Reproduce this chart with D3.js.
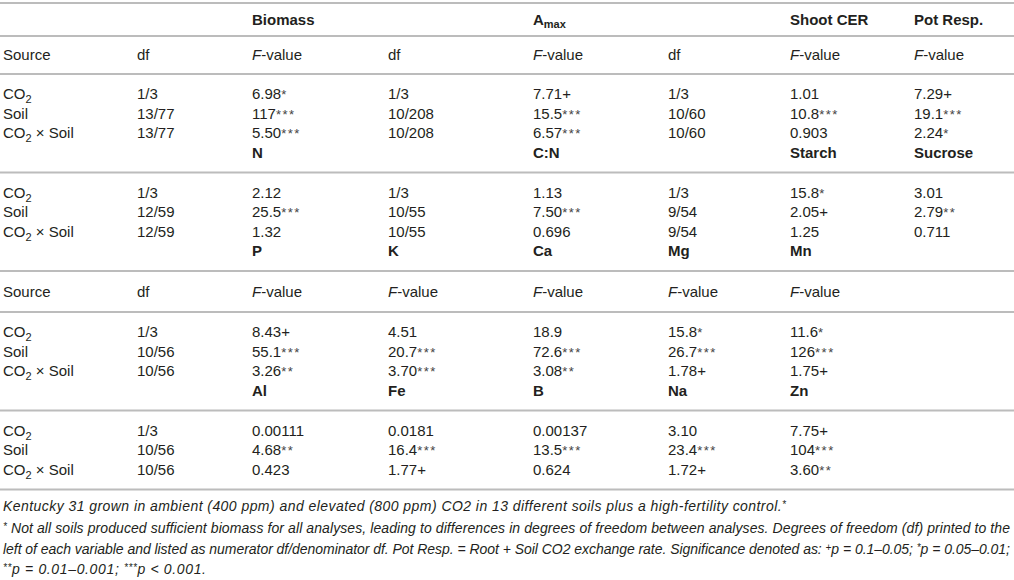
<!DOCTYPE html>
<html>
<head>
<meta charset="utf-8">
<style>
  body{ margin:0; background:#fff; }
  svg{ display:block; }
  text{ font-family: "Liberation Sans", Arial, sans-serif; fill:#231f20; }
</style>
<script src="https://d3js.org/d3.v7.min.js"></script>
</head>
<body>
<svg id="vis"></svg>
<script>
  var width = 1014,
    height = 580,
    fontSize = 15,
    ruleColor = "#bcbcbc";

  // table data -------------------------------------------------
  var sources = ["CO2", "Soil", "CO2 × Soil"];

  var varsTop = ["", "", "Biomass", "", "Amax", "", "Shoot CER", "Pot Resp."];
  var headsTop = ["Source", "df", "F-value", "df", "F-value", "df", "F-value", "F-value"];
  var block1 = [
    ["1/3", "6.98*", "1/3", "7.71+", "1/3", "1.01", "7.29+"],
    ["13/77", "117***", "10/208", "15.5***", "10/60", "10.8***", "19.1***"],
    ["13/77", "5.50***", "10/208", "6.57***", "10/60", "0.903", "2.24*"]
  ];
  var vars2 = ["", "", "N", "", "C:N", "", "Starch", "Sucrose"];
  var block2 = [
    ["1/3", "2.12", "1/3", "1.13", "1/3", "15.8*", "3.01"],
    ["12/59", "25.5***", "10/55", "7.50***", "9/54", "2.05+", "2.79**"],
    ["12/59", "1.32", "10/55", "0.696", "9/54", "1.25", "0.711"]
  ];
  var vars3 = ["", "", "P", "K", "Ca", "Mg", "Mn", ""];
  var headsLow = ["Source", "df", "F-value", "F-value", "F-value", "F-value", "F-value", ""];
  var block3 = [
    ["1/3", "8.43+", "4.51", "18.9", "15.8*", "11.6*"],
    ["10/56", "55.1***", "20.7***", "72.6***", "26.7***", "126***"],
    ["10/56", "3.26**", "3.70***", "3.08**", "1.78+", "1.75+"]
  ];
  var vars4 = ["", "", "Al", "Fe", "B", "Na", "Zn", ""];
  var block4 = [
    ["1/3", "0.00111", "0.0181", "0.00137", "3.10", "7.75+"],
    ["10/56", "4.68**", "16.4***", "13.5***", "23.4***", "104***"],
    ["10/56", "0.423", "1.77+", "0.624", "1.72+", "3.60**"]
  ];

  var footnotes = [
    "Kentucky 31 grown in ambient (400 ppm) and elevated (800 ppm) CO2 in 13 different soils plus a high-fertility control.^*",
    "^* Not all soils produced sufficient biomass for all analyses, leading to differences in degrees of freedom between analyses. Degrees of freedom (df) printed to the",
    "left of each variable and listed as numerator df/denominator df. Pot Resp. = Root + Soil CO2 exchange rate. Significance denoted as: ^+p = 0.1–0.05; ^*p = 0.05–0.01;",
    "^**p = 0.01–0.001; ^***p < 0.001."
  ];
  var footWidths = [783, 1007, 1007, 203];

  // rows in drawing order: rules and text rows
  function dataRows(block) {
    return block.map(function(r, i) { return [sources[i]].concat(r); });
  }
  var layout = [
    {rule: true},
    {cells: varsTop, bold: true, pad: 16.5},
    {rule: true},
    {cells: headsTop, pad: 19},
    {rule: true}
  ]
  .concat(dataRows(block1).map(function(c) { return {cells: c}; }))
  .concat([{cells: vars2, bold: true}, {rule: true}])
  .concat(dataRows(block2).map(function(c) { return {cells: c}; }))
  .concat([{cells: vars3, bold: true}, {rule: true}, {cells: headsLow, pad: 20.5}, {rule: true}])
  .concat(dataRows(block3).map(function(c) { return {cells: c}; }))
  .concat([{cells: vars4, bold: true}, {rule: true}])
  .concat(dataRows(block4).map(function(c) { return {cells: c}; }))
  .concat([{rule: true}]);

  // y positions -------------------------------------------------
  var pitch = 19.5, padDefault = 20;
  var y = 3, prev = null;
  layout.forEach(function(d) {
    if (d.rule) {
      if (prev && !prev.rule) y += prev.pad || padDefault;
      d.y = y;
    } else {
      if (prev.rule) y += d.pad || padDefault;
      else y += pitch;
      d.y = y;
    }
    prev = d;
  });

  // column scale
  var xscale = d3.scaleOrdinal()
    .domain(d3.range(8))
    .range([3, 137, 252, 388, 533, 668, 790, 914]);

  var svg = d3.select("#vis")
    .attr("width", width)
    .attr("height", height);

  svg.selectAll("line.rule")
    .data(layout.filter(function(d) { return d.rule; }))
    .enter().append("line")
    .attr("class", "rule")
    .attr("x1", 0)
    .attr("x2", width)
    .attr("y1", function(d) { return d.y; })
    .attr("y2", function(d) { return d.y; })
    .style("stroke", ruleColor)
    .style("stroke-width", 2);

  var rows = svg.selectAll("g.row")
    .data(layout.filter(function(d) { return !d.rule; }))
    .enter().append("g")
    .attr("class", "row")
    .attr("transform", function(d) { return "translate(0," + (d.y + 5) + ")"; });

  rows.selectAll("text")
    .data(function(d) {
      return d.cells.map(function(c, i) { return {text: c, col: i, bold: d.bold}; })
        .filter(function(c) { return c.text !== ""; });
    })
    .enter().append("text")
    .attr("x", function(d) { return xscale(d.col); })
    .style("font-size", fontSize + "px")
    .style("font-weight", function(d) { return d.bold ? "bold" : "normal"; })
    .each(function(d) { fillCell(d3.select(this), d.text); });

  // cell text with subscripts / italics / significance marks
  function fillCell(t, s) {
    if (s.indexOf("CO2") === 0) {
      t.append("tspan").text("CO");
      t.append("tspan").text("2").attr("dy", 4).style("font-size", "11px");
      var rest = s.slice(3);
      if (rest) t.append("tspan").attr("dy", -4).text(rest);
    } else if (s === "F-value") {
      t.append("tspan").style("font-style", "italic").text("F");
      t.append("tspan").text("-value");
    } else if (s === "Amax") {
      t.append("tspan").text("A");
      t.append("tspan").text("max").attr("dy", 3).style("font-size", "11px");
    } else {
      var m = s.match(/^([^*]*)(\**)$/);
      t.append("tspan").text(m[1]);
      if (m[2]) {
        t.append("tspan").text(m[2])
          .style("font-size", "13px")
          .style("letter-spacing", "1.5px")
          .style("fill", "#444");
      }
    }
  }

  // footnotes -------------------------------------------------
  var footY = [511, 533, 554, 574];

  svg.selectAll("text.foot")
    .data(footnotes)
    .enter().append("text")
    .attr("class", "foot")
    .attr("x", 3)
    .attr("y", function(d, i) { return footY[i]; })
    .attr("textLength", function(d, i) { return footWidths[i]; })
    .attr("lengthAdjust", "spacing")
    .style("font-size", "14px")
    .style("font-style", "italic")
    .each(function(d) {
      var t = d3.select(this);
      d.split(/(\^[*+]+)/).forEach(function(part) {
        if (part === "") return;
        if (part[0] === "^") {
          t.append("tspan").text(part.slice(1))
            .attr("baseline-shift", "35%")
            .style("font-size", "10px");
        } else {
          t.append("tspan").text(part);
        }
      });
    });
</script>
</body>
</html>
